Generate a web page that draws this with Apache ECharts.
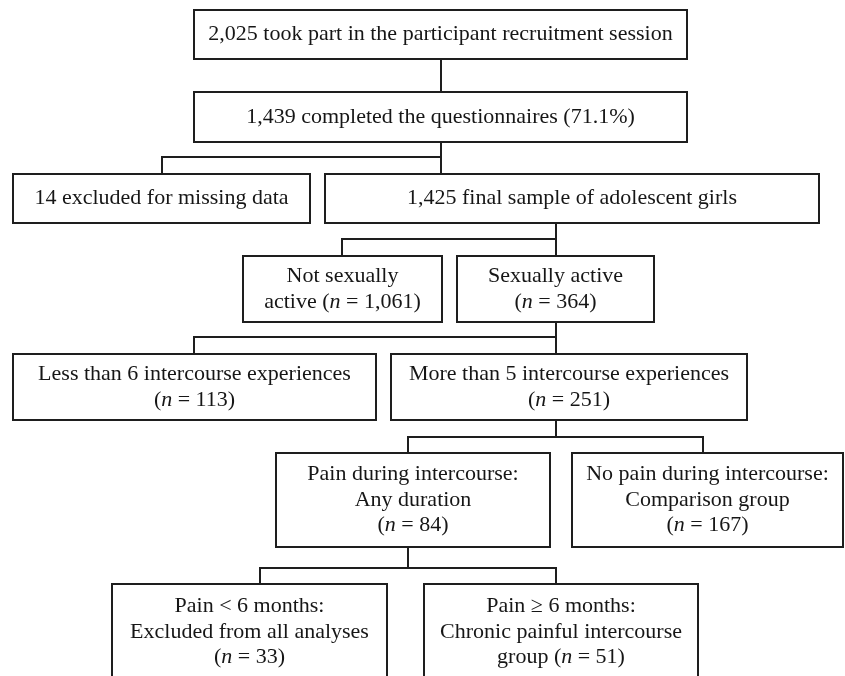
<!DOCTYPE html>
<html>
<head>
<meta charset="utf-8">
<script src="https://cdn.jsdelivr.net/npm/echarts@6/dist/echarts.min.js"></script>
<style>
  html, body { margin: 0; padding: 0; background: #fff; }
  #chart { width: 845px; height: 676px; }
</style>
</head>
<body>
<div id="chart"></div>
<script>
// box texts ({i|n} = italic n)
var nodeLabels = [
    '2,025 took part in the participant recruitment session',
    '1,439 completed the questionnaires (71.1%)',
    '14 excluded for missing data',
    '1,425 final sample of adolescent girls',
    'Not sexually\nactive ({i|n} = 1,061)',
    'Sexually active\n({i|n} = 364)',
    'Less than 6 intercourse experiences\n({i|n} = 113)',
    'More than 5 intercourse experiences\n({i|n} = 251)',
    'Pain during intercourse:\nAny duration\n({i|n} = 84)',
    'No pain during intercourse:\nComparison group\n({i|n} = 167)',
    'Pain < 6 months:\nExcluded from all analyses\n({i|n} = 33)',
    'Pain \u2265 6 months:\nChronic painful intercourse\ngroup ({i|n} = 51)'
];
// parent -> child
var links = [
    [0, 1],
    [1, 2], [1, 3],
    [3, 4], [3, 5],
    [5, 6], [5, 7],
    [7, 8], [7, 9],
    [8, 10], [8, 11]
];

// layout only: x1, y1, x2, y2, line-in x, line-out x, bus y
var layout = [
    [194, 10, 687, 59, 441, 441, 75],
    [194, 92, 687, 142, 441, 441, 157],
    [13, 174, 310, 223, 162, 162, 0],
    [325, 174, 819, 223, 441, 556, 239],
    [243, 256, 442, 322, 342, 342, 0],
    [457, 256, 654, 322, 556, 556, 337],
    [13, 354, 376, 420, 194, 194, 0],
    [391, 354, 747, 420, 556, 556, 437],
    [276, 453, 550, 547, 408, 408, 568],
    [572, 453, 843, 547, 703, 703, 0],
    [112, 584, 387, 680, 260, 260, 0],
    [424, 584, 698, 680, 556, 556, 0]
];

var font = 'Liberation Serif, Times New Roman, serif';
var lineColor = '#1e1e1e';

var myChart = echarts.init(document.getElementById('chart'));
myChart.setOption({
    animation: false,
    grid: { left: 0, right: 0, top: 0, bottom: 0 },
    xAxis: { type: 'value', min: 0, max: 845, show: false },
    yAxis: { type: 'value', min: 0, max: 676, inverse: true, show: false },
    series: [
        {
            // connectors
            type: 'custom',
            data: links,
            renderItem: function (params, api) {
                var l = links[params.dataIndex];
                var p = layout[l[0]], c = layout[l[1]];
                var pts = [
                    [p[5], p[3]], [p[5], p[6]], [c[4], p[6]], [c[4], c[1]]
                ].map(function (d) { return api.coord(d); });
                return {
                    type: 'polyline',
                    shape: { points: pts },
                    style: { stroke: lineColor, lineWidth: 2, fill: null }
                };
            }
        },
        {
            // boxes
            type: 'custom',
            data: nodeLabels.map(function (t, i) { return [i]; }),
            renderItem: function (params, api) {
                var b = layout[params.dataIndex];
                var a = api.coord([b[0], b[1]]);
                var z = api.coord([b[2], b[3]]);
                return {
                    type: 'group',
                    children: [
                        {
                            type: 'rect',
                            shape: { x: a[0], y: a[1], width: z[0] - a[0], height: z[1] - a[1] },
                            style: { fill: '#fff', stroke: lineColor, lineWidth: 2 }
                        },
                        {
                            type: 'text',
                            style: {
                                text: nodeLabels[params.dataIndex],
                                x: (a[0] + z[0]) / 2,
                                y: (a[1] + z[1]) / 2,
                                align: 'center',
                                verticalAlign: 'middle',
                                fontFamily: font,
                                fontSize: 22,
                                lineHeight: 25.5,
                                fill: '#161616',
                                rich: {
                                    i: { fontStyle: 'italic', fontFamily: font, fontSize: 22, lineHeight: 25.5, fill: '#161616' }
                                }
                            }
                        }
                    ]
                };
            }
        }
    ]
});
</script>
</body>
</html>
